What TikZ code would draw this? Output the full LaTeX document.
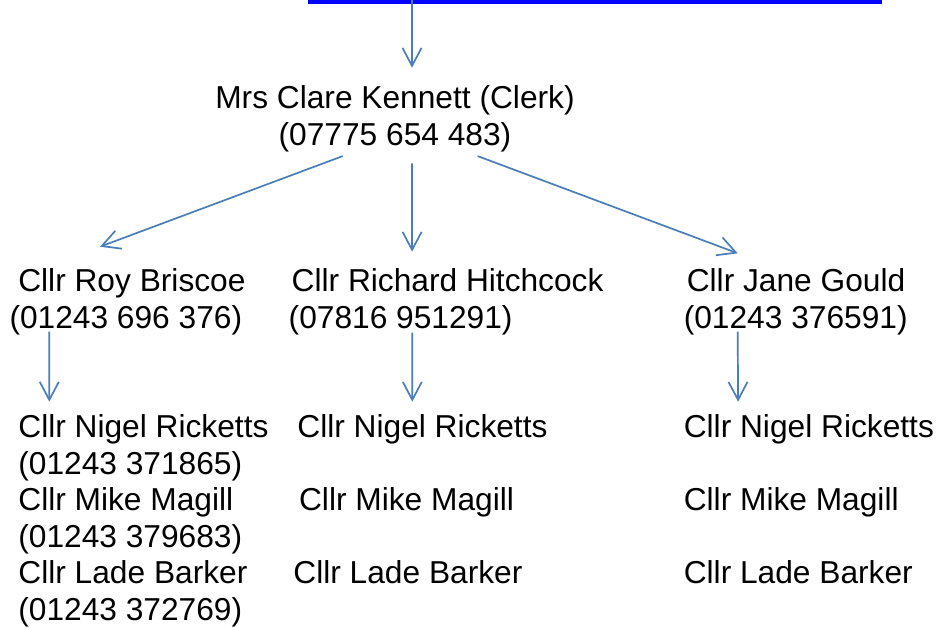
\documentclass[tikz,border=0pt]{standalone}
\usepackage{fontspec}
\setmainfont{Liberation Sans}
\usepackage{tikz}
\usetikzlibrary{positioning}
\usetikzlibrary{arrows.meta}
\tikzset{>={Straight Barb[length=18pt,width=19pt]}}
\definecolor{linkblue}{HTML}{0000FF}
\definecolor{arrowblue}{HTML}{4A7EBB}

\begin{document}
\begin{tikzpicture}[x=1pt, y=-1pt, namenode/.style={inner sep=0pt, outer sep=0pt, align=left, anchor=north west, font=\fontsize{31.7}{36.6}\selectfont}, listnode/.style={namenode, anchor=north west}, linknode/.style={fill=linkblue, inner sep=0pt, outer sep=0pt, minimum width=573.7pt, minimum height=4pt}, connector/.style={->, draw=arrowblue, line width=1.7pt}]

    \useasboundingbox[fill=white] (0,0) rectangle (942,627);

    %Nodes
    \node[linknode](link) at (594.85,2) {};
    \node[namenode, align=center, anchor=north](clerk) at (395,82.9) {\strut Mrs Clare Kennett (Clerk)\\(07775 654 483)\strut};
    \node[namenode](briscoe) at (9.5,266.1) {\strut\hspace*{8.8pt}Cllr Roy Briscoe\\(01243 696 376)\strut};
    \node[namenode](hitchcock) at (288.7,266.1) {\strut\hspace*{3pt}Cllr Richard Hitchcock\\(07816 951291)\strut};
    \node[namenode](gould) at (683.8,266.1) {\strut\hspace*{3pt}Cllr Jane Gould\\(01243 376591)\strut};
    \node[listnode](briscoe_list)[below right=72.6pt and 8.9pt of briscoe.south west]{\strut Cllr Nigel Ricketts\\(01243 371865)\\Cllr Mike Magill\\(01243 379683)\\Cllr Lade Barker\\(01243 372769)\strut};
    \node[listnode](hitchcock_list)[below right=72.6pt and 4.7pt of hitchcock.south west]{\strut\hspace*{4pt}Cllr Nigel Ricketts\\[36.6pt]\hspace*{5.7pt}Cllr Mike Magill\\[36.6pt]Cllr Lade Barker\strut};
    \node[listnode](gould_list)[below right=72.6pt and 0pt of gould.south west]{\strut Cllr Nigel Ricketts\\[36.6pt]Cllr Mike Magill\\[36.6pt]Cllr Lade Barker\strut};

    %Lines
    \draw[connector] ([xshift=-182.85pt]link.north) -- ([xshift=17pt,yshift=15.2pt]clerk.north);
    \draw[connector] ([xshift=-52.3pt]clerk.south) -- ([xshift=-27.5pt,yshift=19.4pt]briscoe.north);
    \draw[connector] ([xshift=17pt,yshift=-7.2pt]clerk.south) -- ([xshift=-34pt,yshift=14.4pt]hitchcock.north);
    \draw[connector] ([xshift=82.7pt]clerk.south) -- ([xshift=-58pt,yshift=12.8pt]gould.north);
    \draw[connector] ([xshift=39.8pt,yshift=7.6pt]briscoe.south west) -- ([xshift=30.9pt,yshift=10.2pt]briscoe_list.north west);
    \draw[connector] ([xshift=123.6pt,yshift=6.6pt]hitchcock.south west) -- ([xshift=118.9pt,yshift=10.2pt]hitchcock_list.north west);
    \draw[connector] ([xshift=53.9pt,yshift=7.6pt]gould.south west) -- ([xshift=54.3pt,yshift=10.2pt]gould_list.north west);

\end{tikzpicture}
\end{document}
